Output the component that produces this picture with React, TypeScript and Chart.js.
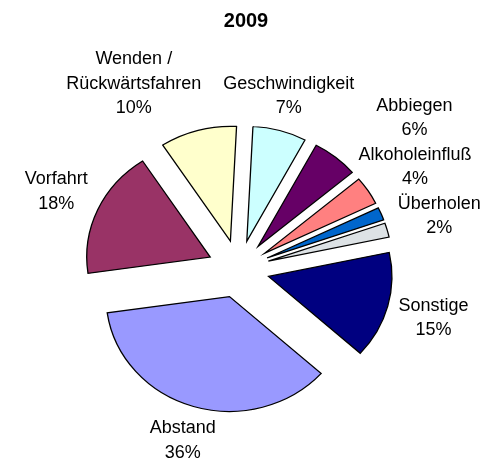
import React, { useEffect, useRef } from "react";
import { Chart, registerables } from "chart.js";

Chart.register(...registerables);

const TITLE = "2009";
// Clockwise from the first slice (Abstand)
const CATEGORIES: (string | string[])[] = [
  "Abstand",
  "Vorfahrt",
  ["Wenden /", "Rückwärtsfahren"],
  "Geschwindigkeit",
  "Abbiegen",
  "Alkoholeinfluß",
  "",
  "Überholen",
  "Sonstige",
];
const VALUES = [36, 18, 10, 7, 6, 4, 1.8, 2, 15];
const COLORS = [
  "#9999FF",
  "#993366",
  "#FFFFCC",
  "#CCFFFF",
  "#660066",
  "#FF8080",
  "#0066CC",
  "#DDE2E5",
  "#000080",
];

const FONT = '"Liberation Sans", Arial, sans-serif';
const LABEL_SIZE = 18;
const LINE_H = 24.5;
const EXPLODE = 31;
const SQUASH = 0.93;
const GAP = 11;
const LABEL_PAD = 22;

const explodePlugin = {
  id: "explode",
  beforeDatasetDraw(chart: any, args: any) {
    const ctx = chart.ctx;
    args.meta.data.forEach((arc: any) => {
      const h = (arc.startAngle + arc.endAngle) / 2;
      ctx.save();
      ctx.translate(arc.x, arc.y);
      ctx.scale(1, SQUASH);
      ctx.translate(-arc.x, -arc.y);
      ctx.translate(Math.cos(h) * EXPLODE, Math.sin(h) * EXPLODE);
      arc.draw(ctx);
      ctx.restore();
    });
    return false;
  },
};

const labelPlugin = {
  id: "sliceLabels",
  afterDatasetsDraw(chart: any) {
    const ctx = chart.ctx;
    const meta = chart.getDatasetMeta(0);
    const data = chart.data.datasets[0].data as number[];
    const total = data.reduce((a, b) => a + b, 0);
    ctx.save();
    ctx.font = `${LABEL_SIZE}px ${FONT}`;
    const items: any[] = [];
    meta.data.forEach((arc: any, i: number) => {
      const lab = chart.data.labels[i];
      const joined = Array.isArray(lab) ? lab.join("") : lab;
      if (!joined) return;
      const lines = [...(Array.isArray(lab) ? lab : [lab]), Math.round((data[i] / total) * 100) + "%"];
      const h = (arc.startAngle + arc.endAngle) / 2;
      const ux = Math.cos(h);
      const uy = Math.sin(h);
      const r = arc.outerRadius + EXPLODE + GAP;
      const px = arc.x + ux * r;
      const py = arc.y + SQUASH * uy * r;
      const w = Math.max(...lines.map((l: string) => ctx.measureText(l).width));
      const hh = lines.length * LINE_H;
      // box pushed outward so that the anchor point lies on its edge
      const ext = Math.min(
        Math.abs(ux) > 1e-6 ? w / 2 / Math.abs(ux) : Infinity,
        Math.abs(uy) > 1e-6 ? hh / 2 / Math.abs(uy) : Infinity
      );
      items.push({ lines, w, h: hh, top: Math.abs(uy) > Math.abs(ux), x: px + ux * ext, y: py + uy * ext });
    });
    // resolve overlaps: top labels slide sideways, side labels slide vertically
    for (let it = 0; it < 300; it++) {
      let moved = false;
      for (let a = 0; a < items.length; a++) {
        for (let b = a + 1; b < items.length; b++) {
          const A = items[a];
          const B = items[b];
          const both = A.top && B.top;
          const ox = (A.w + B.w) / 2 + (both ? LABEL_PAD : 0) - Math.abs(A.x - B.x);
          const oy = (A.h + B.h) / 2 - Math.abs(A.y - B.y);
          if (ox > 0.01 && oy > 0.01) {
            moved = true;
            if (both) {
              const s = A.x < B.x ? -1 : 1;
              A.x += (s * ox) / 2;
              B.x -= (s * ox) / 2;
            } else {
              const s = A.y < B.y ? -1 : 1;
              A.y += (s * oy) / 2;
              B.y -= (s * oy) / 2;
            }
          }
        }
      }
      if (!moved) break;
    }
    ctx.fillStyle = "#000";
    ctx.textAlign = "center";
    ctx.textBaseline = "middle";
    items.forEach((o) => {
      o.lines.forEach((l: string, k: number) => {
        ctx.fillText(l, o.x, o.y - o.h / 2 + (k + 0.5) * LINE_H);
      });
    });
    ctx.restore();
  },
};

const titlePlugin = {
  id: "topTitle",
  afterDraw(chart: any) {
    const ctx = chart.ctx;
    ctx.save();
    ctx.font = `bold 20px ${FONT}`;
    ctx.fillStyle = "#000";
    ctx.textAlign = "center";
    ctx.textBaseline = "alphabetic";
    ctx.fillText(TITLE, 246, 27);
    ctx.restore();
  },
};

export default function App() {
  const ref = useRef<HTMLCanvasElement>(null);
  useEffect(() => {
    if (!ref.current) return;
    const chart = new Chart(ref.current, {
      type: "pie",
      data: {
        labels: CATEGORIES as any,
        datasets: [
          {
            data: VALUES,
            backgroundColor: COLORS,
            borderColor: "#000",
            borderWidth: 1.3,
            borderJoinStyle: "miter",
            radius: 123.5,
            rotation: 132,
          } as any,
        ],
      },
      options: {
        responsive: false,
        animation: false,
        events: [],
        layout: { padding: { left: 0, right: 18, top: 74, bottom: 0 } },
        plugins: {
          legend: { display: false },
          title: { display: false },
          tooltip: { enabled: false },
        },
      } as any,
      plugins: [explodePlugin, labelPlugin, titlePlugin],
    });
    return () => chart.destroy();
  }, []);
  return (
    <div style={{ position: "fixed", left: 0, top: 0, width: 495, height: 464, background: "#fff" }}>
      <canvas ref={ref} width={495} height={464} />
    </div>
  );
}
